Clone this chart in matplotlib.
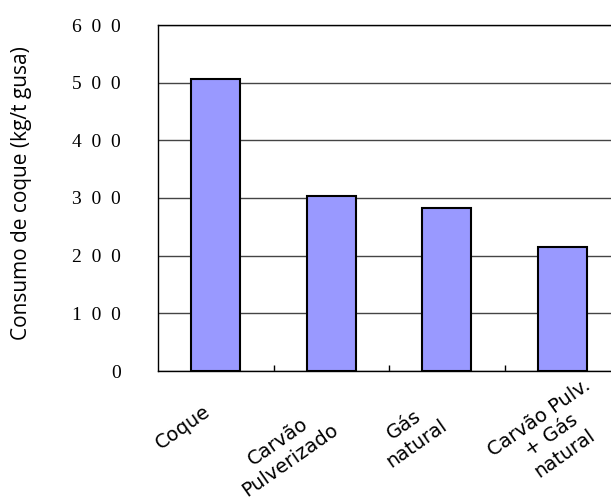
import matplotlib
matplotlib.use("Agg")
import matplotlib.pyplot as plt
from matplotlib.transforms import ScaledTranslation

# dados
categorias = ["Coque", "Carvão\nPulverizado", "Gás\nnatural", "Carvão Pulv.\n+ Gás\nnatural"]
consumo = [507, 303, 282, 215]
y_ticks = [0, 100, 200, 300, 400, 500, 600]

fig = plt.figure(figsize=(6.11, 5.01), dpi=100)
ax = fig.add_axes([158 / 611, 130 / 501, 462 / 611, 346 / 501])

x = range(len(categorias))
ax.bar(x, consumo, width=0.42, color="#9999FF", edgecolor="black", linewidth=1.5, zorder=3)

ax.set_xlim(-0.5, 3.5)
ax.set_ylim(0, 600)
ax.set_yticks(y_ticks)
ax.set_yticklabels(["  ".join(str(v)) for v in y_ticks], family="Liberation Serif", fontsize=14)
ax.tick_params(axis="y", length=0, pad=27)
ax.yaxis.grid(True, color="#444444", linewidth=1, zorder=0)

ax.set_xticks(x)
ax.set_xticklabels(categorias, rotation=35, ha="right", va="top", rotation_mode="anchor",
                   multialignment="center", family="DejaVu Sans", fontsize=14)
ax.tick_params(axis="x", length=0, pad=22)
ax.set_xticks([0.5, 1.5, 2.5], minor=True)
ax.tick_params(axis="x", which="minor", direction="in", length=4, width=1)

# deslocamento dos rotulos (pontos), como no original do Excel
desloc = [(-9, 0), (-9, 0), (-14, 3), (15, 19)]
for lab, (dx, dy) in zip(ax.get_xticklabels(), desloc):
    lab.set_transform(lab.get_transform() + ScaledTranslation(dx / 72, dy / 72, fig.dpi_scale_trans))

for s in ["top", "left", "bottom"]:
    ax.spines[s].set_linewidth(1)
ax.spines["right"].set_visible(False)

ax.set_ylabel("Consumo de coque (kg/t gusa)", family="Open Sans", fontsize=15)
ax.yaxis.set_label_coords(-0.273, 0.513)

fig.savefig("out.png", dpi=100)
